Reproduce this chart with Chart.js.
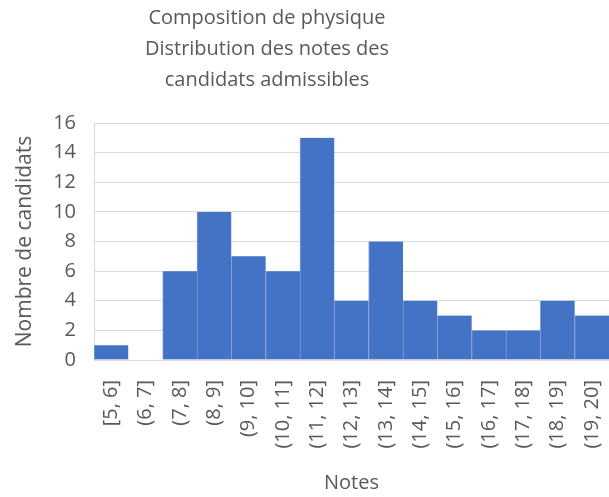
<!DOCTYPE html>
<html>
<head>
<meta charset="utf-8">
<script src="https://cdn.jsdelivr.net/npm/chart.js@4.4.1/dist/chart.umd.min.js"></script>
<style>
    html, body { margin: 0; padding: 0; background: #fff; }
    .wrap { width: 609px; height: 497px; overflow: hidden; position: relative; }
    #histChart { display: block; }
</style>
</head>
<body>
<div class="wrap">
    <canvas id="histChart" width="609" height="497"></canvas>
</div>
<script>
//! Données
const titleLines = ['Composition de physique', 'Distribution des notes des', 'candidats admissibles'];
const bins = ['[5, 6]', '(6, 7]', '(7, 8]', '(8, 9]', '(9, 10]', '(10, 11]', '(11, 12]', '(12, 13]',
    '(13, 14]', '(14, 15]', '(15, 16]', '(16, 17]', '(17, 18]', '(18, 19]', '(19, 20]'];
const counts = [1, 0, 6, 10, 7, 6, 15, 4, 8, 4, 3, 2, 2, 4, 3];
const yTicks = [0, 2, 4, 6, 8, 10, 12, 14, 16];

const grey = '#595959';
const font = "'Open Sans', sans-serif";

// titre centré comme dans Excel (pas au milieu du canvas)
const titlePlugin = {
    id: 'excelTitle',
    afterDraw(chart) {
        const c = chart.ctx;
        c.save();
        c.fillStyle = grey;
        c.font = "20px " + font;
        c.textAlign = 'center';
        c.textBaseline = 'middle';
        titleLines.forEach((line, i) => {
            c.fillText(line, 267, 18 + i * 31);
        });
        c.restore();
    }
};

const ctx = document.getElementById('histChart');

new Chart(ctx, {
    type: 'bar',
    data: {
        labels: bins,
        datasets: [
            {
                label: 'Nombre de candidats',
                data: counts,
                backgroundColor: '#4472C4',
                borderColor: '#7f9fd8',
                borderWidth: { left: 1, right: 0, top: 0, bottom: 0 },
                categoryPercentage: 1,
                barPercentage: 1,
            },
        ]
    },
    options: {
        responsive: false,
        animation: false,
        // le graphique d'origine est coupé à droite
        layout: {
            padding: { top: 123, right: -5, left: 0, bottom: 0 }
        },
        plugins: {
            legend: { display: false },
            title: { display: false },
            tooltip: { enabled: false }
        },
        scales: {
            x: {
                grid: { display: false },
                border: { color: '#d9d9d9', width: 1 },
                ticks: {
                    color: grey,
                    font: { family: font, size: 20 },
                    minRotation: 90,
                    maxRotation: 90,
                    padding: 12,
                    autoSkip: false,
                },
                title: {
                    display: true,
                    text: 'Notes',
                    color: grey,
                    font: { family: font, size: 20 },
                    padding: { top: 0, bottom: 2 },
                },
                afterFit: (s) => {
                    s.height = 137;
                    s.paddingLeft = 0;
                    s.paddingRight = 0;
                },
            },
            y: {
                min: 0,
                max: 16,
                afterBuildTicks: (s) => { s.ticks = yTicks.map(v => ({ value: v })); },
                grid: { color: '#d9d9d9', drawTicks: false },
                border: { color: '#d9d9d9', width: 1 },
                ticks: {
                    color: grey,
                    font: { family: font, size: 20 },
                    padding: 18,
                },
                title: {
                    display: true,
                    text: 'Nombre de candidats',
                    color: grey,
                    font: { family: font, size: 21 },
                    padding: { top: 12, bottom: 0 },
                },
                afterFit: (s) => { s.width = 94; },
            },
        }
    },
    plugins: [titlePlugin]
});
</script>
</body>
</html>
